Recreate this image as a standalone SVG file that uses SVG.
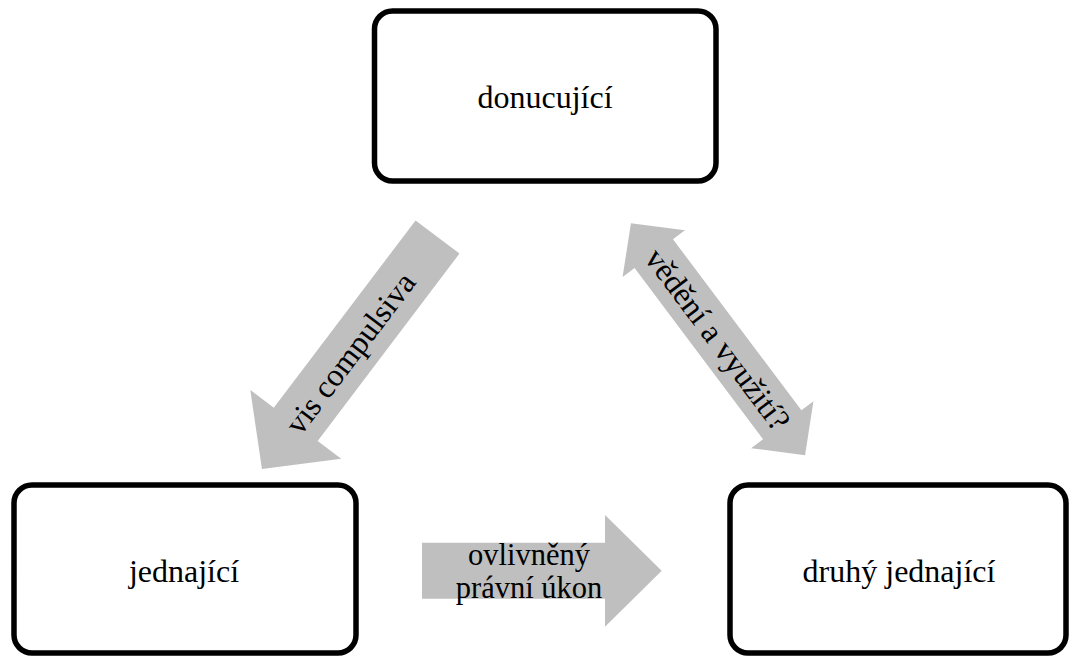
<svg xmlns="http://www.w3.org/2000/svg" width="1071" height="656" viewBox="0 0 1071 656">
  <style>
    .box { fill: #ffffff; stroke: #000000; stroke-width: 5.5; }
    .arrow { fill: #bfbfbf; stroke: none; }
    .lbl { font-family: "Liberation Serif", "Times New Roman", serif; font-size: 32px; fill: #000000; text-anchor: middle; }
    .lbl2 { font-family: "Liberation Serif", "Times New Roman", serif; font-size: 30.5px; fill: #000000; text-anchor: middle; }
  </style>
  <rect width="1071" height="656" fill="#ffffff"/>
  <g id="connectors">
    <g id="arrow-vis-compulsiva">
      <polygon class="arrow" transform="translate(437.5,237) rotate(127.1)" points="0,-27.5 235,-27.5 235,-57 291,0 235,57 235,27.5 0,27.5"/>
      <text class="lbl" transform="translate(350,353) rotate(-52.9)" x="0" y="11">vis compulsiva</text>
    </g>
    <g id="arrow-vedeni">
      <polygon class="arrow" transform="translate(718,339.2) rotate(53.1)" points="-145,0 -107,-39 -107,-24 107,-24 107,-39 145,0 107,39 107,24 -107,24 -107,39"/>
      <text class="lbl" transform="translate(718,339.2) rotate(53.1)" x="0" y="11">vědění a využití?</text>
    </g>
    <g id="arrow-ukon">
      <polygon class="arrow" points="422,542.7 605,542.7 605,515 661.7,570.8 605,626.7 605,598.7 422,598.7"/>
      <text class="lbl2" x="529" y="564.5">ovlivněný</text>
      <text class="lbl2" x="529" y="597.5">právní úkon</text>
    </g>
  </g>
  <g id="node-donucujici">
    <rect class="box" x="374.5" y="11" width="341.5" height="170" rx="18" ry="18"/>
    <text class="lbl" x="545" y="107.5">donucující</text>
  </g>
  <g id="node-jednajici">
    <rect class="box" x="14" y="485" width="342" height="168" rx="18" ry="18"/>
    <text class="lbl" x="184" y="581.7">jednající</text>
  </g>
  <g id="node-druhy-jednajici">
    <rect class="box" x="730" y="485" width="336" height="168" rx="18" ry="18"/>
    <text class="lbl" x="899" y="581.7">druhý jednající</text>
  </g>
</svg>
